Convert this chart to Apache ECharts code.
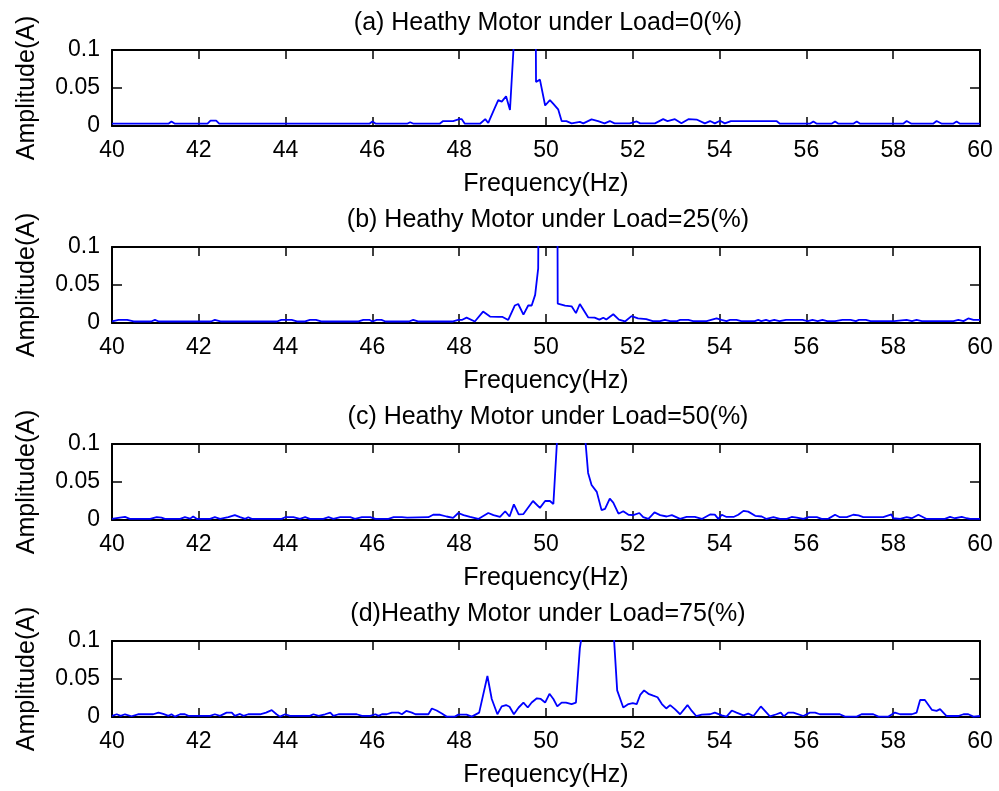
<!DOCTYPE html>
<html>
<head>
<meta charset="utf-8">
<script src="https://cdn.jsdelivr.net/npm/echarts@6/dist/echarts.min.js"></script>
<style>
html,body{margin:0;padding:0;background:#fff;}
#chart{width:999px;height:791px;}
</style>
</head>
<body>
<div id="chart"></div>
<script>
// ---------- data ----------
const titles = [
  '(a) Heathy Motor under Load=0(%)',
  '(b) Heathy Motor under Load=25(%)',
  '(c) Heathy Motor under Load=50(%)',
  '(d)Heathy Motor under Load=75(%)'
];
const xName = 'Frequency(Hz)';
const yName = 'Amplitude(A)';
const xMin = 40, xMax = 60, xStep = 2;
const yMin = 0, yMax = 0.1, yStep = 0.05;

const freqA = [40,41.3,41.37,41.45,42.2,42.27,42.4,42.47,45.93,46.0,46.08,46.8,46.87,46.95,47.55,47.63,47.86,48.0,48.06,48.13,48.48,48.6,48.67,48.79,48.9,48.98,49.08,49.17,49.27,49.37,49.47,49.57,49.67,49.75,49.77,49.86,49.98,50.09,50.17,50.28,50.36,50.47,50.59,50.78,50.86,51.05,51.2,51.35,51.47,51.58,51.93,52.09,52.17,52.51,52.7,52.8,52.97,53.12,53.28,53.47,53.66,53.78,53.89,54.01,54.12,54.26,55.31,55.39,56.08,56.16,56.24,56.58,56.66,56.74,57.08,57.16,57.24,58.23,58.31,58.42,58.92,59.0,59.12,59.38,59.46,59.54,60];
const ampA = [.003,.003,.006,.003,.003,.007,.007,.003,.003,.006,.003,.003,.005,.003,.003,.0065,.0065,.009,.009,.003,.003,.009,.004,.020,.034,.032,.039,.021,.12,.6,1.0,1.1,.7,.3,.058,.061,.027,.034,.029,.022,.0065,.0065,.0035,.0055,.0035,.0087,.0065,.0035,.0065,.0035,.0035,.006,.0035,.0035,.009,.0065,.009,.0035,.009,.0085,.0035,.0065,.0035,.007,.0035,.0065,.0065,.003,.003,.006,.003,.003,.006,.003,.003,.006,.003,.003,.0065,.003,.003,.0065,.003,.003,.006,.003,.003];

const freqB = [40.0,40.15,40.35,40.5,40.9,40.99,41.08,42.28,42.37,42.5,43.8,43.9,44.14,44.26,44.45,44.56,44.7,44.82,45.68,45.79,45.94,46.0,46.1,46.21,46.3,46.84,46.94,47.05,47.86,47.98,48.06,48.17,48.36,48.55,48.71,48.9,49.0,49.13,49.28,49.36,49.48,49.59,49.67,49.75,49.82,49.86,49.96,50.06,50.16,50.25,50.27,50.44,50.59,50.69,50.78,50.97,51.12,51.23,51.32,51.39,51.55,51.68,51.82,51.97,52.12,52.31,52.46,52.63,52.74,52.86,53.02,53.09,53.28,53.39,53.7,53.93,54.04,54.16,54.24,54.39,54.5,54.81,54.89,54.96,55.07,55.15,55.26,55.38,55.53,55.91,56.03,56.14,56.26,56.37,56.48,56.66,56.83,57.02,57.14,57.21,57.37,57.48,58.02,58.31,58.43,58.54,58.66,59.39,59.5,59.62,59.73,59.85,60];
const ampB = [.002,.004,.004,.002,.002,.004,.002,.002,.004,.002,.002,.004,.004,.002,.002,.004,.004,.002,.002,.004,.004,.002,.004,.004,.002,.002,.004,.002,.002,.004,.004,.007,.002,.015,.0085,.008,.008,.004,.023,.025,.011,.023,.023,.037,.072,.5,1.2,1.5,.8,.4,.0255,.023,.022,.013,.025,.0075,.007,.0044,.007,.0045,.0115,.0045,.002,.009,.006,.005,.0025,.0025,.004,.0025,.0025,.004,.004,.0025,.0025,.006,.004,.0025,.004,.004,.0025,.0025,.004,.0025,.004,.0025,.004,.0025,.004,.004,.0025,.004,.0025,.004,.0025,.0025,.004,.004,.0025,.004,.004,.0025,.0025,.004,.0025,.004,.0025,.0025,.004,.0025,.006,.004,.004];

const freqC = [40.0,40.18,40.3,40.41,40.88,41.03,41.14,41.22,41.57,41.68,41.8,41.87,41.95,42.26,42.37,42.49,42.68,42.83,42.95,43.07,43.14,43.22,43.91,43.99,44.18,44.33,44.45,44.56,44.87,44.99,45.1,45.26,45.49,45.6,45.76,45.95,46.07,46.37,46.49,46.68,46.8,47.29,47.4,47.56,47.71,47.86,47.98,48.1,48.25,48.44,48.67,48.79,48.94,49.06,49.16,49.26,49.37,49.48,49.7,49.86,49.98,50.09,50.17,50.27,50.37,50.47,50.57,50.67,50.77,50.87,50.97,51.05,51.17,51.28,51.36,51.47,51.55,51.67,51.78,51.9,52.01,52.15,52.24,52.36,52.5,52.63,52.78,52.9,53.09,53.24,53.43,53.59,53.78,53.89,53.97,54.05,54.16,54.32,54.43,54.55,54.66,54.82,54.97,55.08,55.24,55.39,55.55,55.66,55.78,55.93,56.05,56.24,56.35,56.51,56.66,56.77,56.93,57.08,57.2,57.31,57.77,57.96,58.0,58.16,58.31,58.43,58.58,58.77,59.19,59.31,59.42,59.58,59.69,59.77,60];
const ampC = [.0015,.0032,.004,.0015,.0015,.0037,.0032,.0015,.0015,.0037,.0018,.0046,.0015,.0015,.0037,.0015,.0037,.0064,.0037,.0015,.0037,.0015,.0015,.0037,.0037,.0015,.0037,.0015,.0015,.0037,.0015,.0037,.0037,.0015,.0037,.0037,.0015,.0015,.0037,.0037,.0032,.0037,.0069,.0069,.0046,.0028,.0092,.0064,.004,.0014,.0092,.0064,.004,.0115,.0046,.0206,.0073,.0078,.025,.016,.025,.025,.021,.12,.6,1.0,1.1,.8,.4,.13,.062,.046,.037,.013,.0147,.028,.023,.0083,.0115,.0069,.0064,.0092,.0037,.0014,.01,.0064,.0046,.0064,.0014,.004,.004,.0014,.0073,.007,.0014,.0069,.004,.004,.0069,.012,.011,.0055,.0046,.0014,.0037,.0014,.0014,.004,.0032,.0014,.0037,.0037,.0014,.0018,.0069,.0037,.0037,.0069,.006,.0037,.0037,.0073,.0023,.0014,.0037,.0023,.0069,.0014,.0014,.004,.0023,.004,.0023,.0014,.0014];

const freqD = [40.0,40.11,40.2,40.3,40.45,40.6,40.95,41.07,41.18,41.3,41.37,41.45,41.57,41.68,41.76,42.26,42.37,42.49,42.64,42.76,42.83,42.95,43.03,43.14,43.41,43.55,43.68,43.79,43.87,43.99,44.1,44.56,44.64,44.76,44.91,45.03,45.1,45.22,45.64,45.76,45.95,46.07,46.14,46.22,46.33,46.45,46.6,46.68,46.78,46.91,46.99,47.29,47.37,47.48,47.6,47.71,47.9,47.98,48.17,48.29,48.46,48.65,48.75,48.88,48.98,49.08,49.16,49.26,49.37,49.48,49.58,49.67,49.79,49.88,49.98,50.08,50.17,50.26,50.36,50.46,50.59,50.69,50.78,50.86,50.96,51.06,51.16,51.26,51.36,51.46,51.54,51.64,51.78,51.9,52.0,52.09,52.17,52.26,52.36,52.47,52.57,52.67,52.77,52.86,52.97,53.09,53.26,53.36,53.46,53.59,53.78,53.89,54.05,54.16,54.28,54.39,54.55,54.66,54.78,54.95,55.16,55.31,55.41,55.48,55.58,55.7,55.93,56.08,56.2,56.31,56.77,56.89,57.16,57.27,57.54,57.66,57.89,58.04,58.16,58.43,58.54,58.62,58.73,58.89,59.0,59.08,59.23,59.5,59.62,59.73,59.85,60];
const ampD = [.0015,.0036,.0015,.0036,.001,.0036,.0036,.0058,.004,.0015,.0036,.0005,.0036,.0036,.0015,.0015,.0036,.0015,.0058,.0058,.0015,.004,.0015,.0036,.0036,.0058,.009,.0036,.0005,.0036,.0015,.0015,.0036,.0015,.0036,.0058,.0015,.0036,.0036,.0015,.0015,.0036,.0015,.0036,.0036,.0058,.0058,.0036,.008,.0058,.0036,.0036,.0112,.0085,.0045,.0005,.0005,.0031,.0031,.0005,.0058,.054,.0237,.0036,.0139,.0157,.0134,.0036,.0125,.019,.0125,.019,.0246,.0237,.019,.0305,.0237,.0139,.019,.019,.017,.019,.0906,.12,.7,1.2,1.3,1.0,.6,.3,.128,.035,.0125,.017,.0183,.017,.029,.035,.0305,.0281,.026,.017,.0112,.0157,.0103,.0036,.0157,.008,.0013,.0031,.0036,.0058,.0022,.0005,.0085,.0058,.0022,.0045,.0013,.0139,.0009,.0036,.0058,.0009,.0058,.0058,.0013,.0058,.0058,.0036,.0036,.0005,.0005,.0036,.0036,.0005,.0005,.0058,.0036,.0036,.0058,.0224,.0224,.0094,.008,.0103,.0013,.0013,.0036,.0036,.0005,.0013];

const freqs = [freqA, freqB, freqC, freqD];
const amps = [ampA, ampB, ampC, ampD];

// ---------- layout ----------
const FONT = "'Liberation Sans', Arial, Helvetica, sans-serif";
const gridTops = [50, 247, 444, 641];
const gridH = 76;
const gridLeft = 112, gridRight = 19;

const option = {
  animation: false,
  backgroundColor: '#ffffff',
  title: [], grid: [], xAxis: [], yAxis: [], series: []
};

for (let i = 0; i < 4; i++) {
  option.title.push({
    text: titles[i],
    left: 548, top: gridTops[i] - 39,
    textAlign: 'center', padding: 0,
    textStyle: { fontFamily: FONT, fontSize: 25, fontWeight: 'normal', color: '#000' }
  });
  option.grid.push({ left: gridLeft, right: gridRight, top: gridTops[i], height: gridH, containLabel: false });
  const axLine = { show: true, onZero: false, lineStyle: { color: '#000', width: 2 } };
  option.xAxis.push({
    type: 'value', gridIndex: i, position: 'bottom', min: xMin, max: xMax, interval: xStep,
    axisLine: axLine,
    axisTick: { show: true, inside: true, length: 9, lineStyle: { color: '#000', width: 1.5 } },
    axisLabel: { margin: 13, fontFamily: FONT, fontSize: 23, color: '#000' },
    splitLine: { show: false },
    name: xName, nameLocation: 'middle', nameGap: 46,
    nameTextStyle: { fontFamily: FONT, fontSize: 25, color: '#000' }
  });
  option.xAxis.push({
    type: 'value', gridIndex: i, position: 'top', min: xMin, max: xMax, interval: xStep,
    axisLine: axLine,
    axisTick: { show: true, inside: true, length: 9, lineStyle: { color: '#000', width: 1.5 } },
    axisLabel: { show: false }, splitLine: { show: false }
  });
  option.yAxis.push({
    type: 'value', gridIndex: i, position: 'left', min: yMin, max: yMax, interval: yStep,
    axisLine: axLine,
    axisTick: { show: true, inside: true, length: 10, lineStyle: { color: '#000', width: 1.5 } },
    axisLabel: { margin: 12, fontFamily: FONT, fontSize: 23, color: '#000' },
    splitLine: { show: false },
    name: yName, nameLocation: 'middle', nameGap: 72,
    nameTextStyle: { fontFamily: FONT, fontSize: 25, color: '#000' }
  });
  option.yAxis.push({
    type: 'value', gridIndex: i, position: 'right', min: yMin, max: yMax, interval: yStep,
    axisLine: axLine,
    axisTick: { show: true, inside: true, length: 10, lineStyle: { color: '#000', width: 1.5 } },
    axisLabel: { show: false }, splitLine: { show: false }
  });
  const data = freqs[i].map((f, k) => [f, amps[i][k]]);
  option.series.push({
    type: 'line', xAxisIndex: 2 * i, yAxisIndex: 2 * i, data: data,
    showSymbol: false, symbol: 'none', clip: true, smooth: false,
    lineStyle: { color: '#0000ff', width: 1.8 }, itemStyle: { color: '#0000ff' }, z: 3
  });
}

const chart = echarts.init(document.getElementById('chart'), null, { renderer: 'canvas' });
chart.setOption(option);
</script>
</body>
</html>
